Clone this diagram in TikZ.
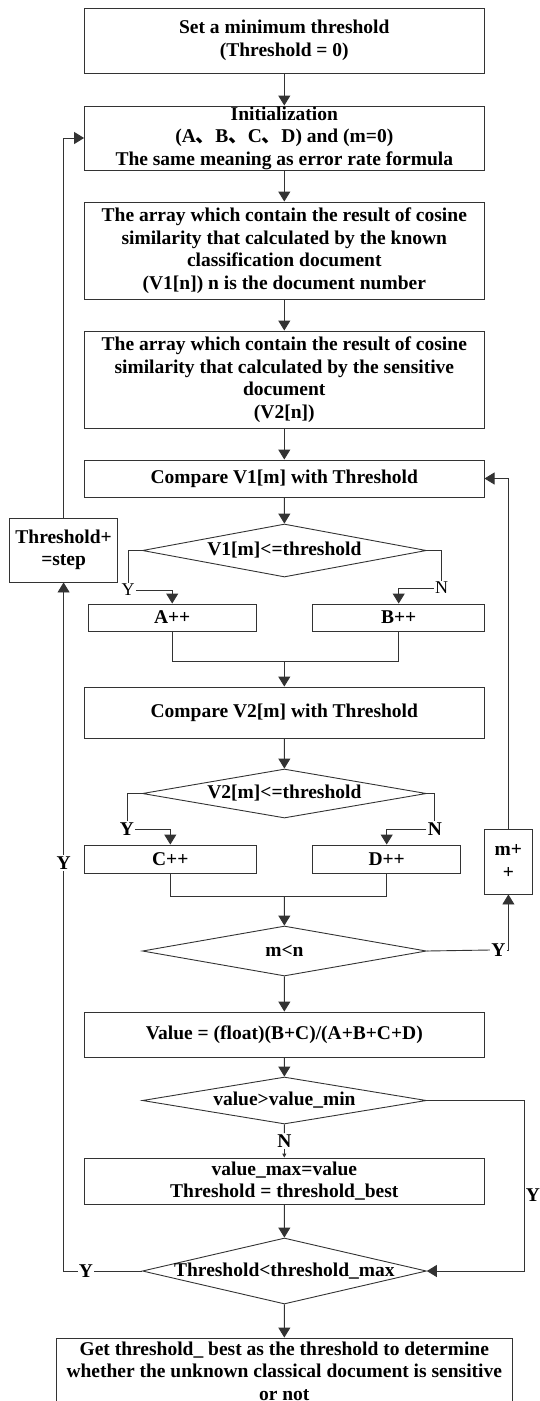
\documentclass[tikz,border=0pt]{standalone}
\usepackage{fontspec}
\setmainfont{Liberation Serif}
\newfontfamily\cjk{Noto Sans CJK SC}
\usetikzlibrary{shapes.geometric,arrows.meta}

\tikzset{
  box/.style={draw=black!80, line width=0.9pt, align=center, inner sep=0pt},
  cond/.style={draw=black!80, line width=0.9pt, diamond, aspect=5.3, inner sep=0pt, minimum width=284pt},
  lbl/.style={inner sep=1pt},
  thinlbl/.style={inner sep=1pt, font=\fontsize{18}{18}\selectfont\mdseries},
  arr/.style={-{Triangle[length=10pt,width=12pt]}},
}

\begin{document}
\begin{tikzpicture}[x=1pt, y=-1pt, line width=0.9pt, draw=black!80,
    font=\fontsize{19.5}{22.5}\selectfont\bfseries]
  \useasboundingbox (0,0) rectangle (539,1401);
  \def\bw{399.5}
  % main column
  \node[box, minimum width=\bw, minimum height=65] (start) at (284.3,40.5) {Set a minimum threshold\\(Threshold = 0)};
  \node[box, minimum width=\bw, minimum height=64] (init) at (284.3,138) {Initialization\\(A{\cjk 、}B{\cjk 、}C{\cjk 、}D) and (m=0)\\The same meaning as error rate formula};
  \node[box, minimum width=\bw, minimum height=97] (arrA) at (284.3,250.5) {The array which contain the result of cosine\\similarity that calculated by the known\\classification document\\(V1[n]) n is the document number};
  \node[box, minimum width=\bw, minimum height=97] (arrB) at (284.3,379.5) {The array which contain the result of cosine\\similarity that calculated by the sensitive\\document\\(V2[n])};
  \node[box, minimum width=\bw, minimum height=37] (cmpA) at (284.3,478.5) {Compare V1[m] with Threshold};
  \node[cond, minimum height=53, label={[lbl]center:V1[m]<=threshold}] (condA) at (284.4,550.5) {};
  \node[box, minimum width=167.7, minimum height=27] (incA) at (172.2,617.5) {A++};
  \node[box, minimum width=171.8, minimum height=27] (incB) at (398.7,617.5) {B++};
  \node[box, minimum width=\bw, minimum height=51] (cmpB) at (284.3,712.5) {Compare V2[m] with Threshold};
  \node[cond, minimum height=49, label={[lbl]center:V2[m]<=threshold}] (condB) at (284.4,793.5) {};
  \node[box, minimum width=171.5, minimum height=28] (incC) at (170.3,859) {C++};
  \node[box, minimum width=147.8, minimum height=28] (incD) at (386.7,859) {D++};
  \node[cond, minimum height=50, label={[lbl]center:m<n}] (condM) at (284.4,951) {};
  \node[box, minimum width=48.8, minimum height=65] (incM) at (508.4,861.5) {m+\\+};
  \node[box, minimum width=\bw, minimum height=45] (val) at (284.3,1034.5) {Value = (float)(B+C)/(A+B+C+D)};
  \node[cond, minimum height=47, label={[lbl]center:value>value\_min}] (condV) at (284.4,1100.5) {};
  \node[box, minimum width=\bw, minimum height=46] (vmax) at (284.3,1181) {value\_max=value\\Threshold = threshold\_best};
  \node[cond, minimum height=66, label={[lbl]center:Threshold<threshold\_max}] (condT) at (284.4,1271) {};
  \node[box, minimum width=455.3, minimum height=66] (res) at (284.3,1371) {Get threshold\_ best as the threshold to determine\\whether the unknown classical document is sensitive\\or not};
  \node[box, minimum width=108.6, minimum height=64] (step) at (63.6,550) {Threshold+\\=step};

  % yes / no labels
  \node[thinlbl] (yA) at (128,590) {Y};
  \node[thinlbl] (nA) at (441.6,588) {N};
  \node[lbl] (yB) at (127,829) {Y};
  \node[lbl] (nB) at (434.8,829) {N};
  \node[lbl] (yM) at (498.4,950) {Y};
  \node[lbl] (nV) at (284.3,1141) {N};
  \node[lbl] (yV) at (533,1195) {Y};
  \node[lbl] (yT) at (86,1271) {Y};
  \node[lbl] (yL) at (63.6,863) {Y};
  \coordinate (mgA) at (284.3,661);
  \coordinate (mgB) at (284.3,896);
  \coordinate (rc) at (524,1271);

  % connectors
  \draw[arr] (start) -- (init);
  \draw[arr] (init) -- (arrA);
  \draw[arr] (arrA) -- (arrB);
  \draw[arr] (arrB) -- (cmpA);
  \draw[arr] (cmpA) -- (condA);
  \draw (condA.west) -| (yA.north);
  \draw[arr] (yA.east) -| (incA.north);
  \draw (condA.east) -| (nA.north);
  \draw[arr] (nA.west) -| (incB.north);
  \draw (incA.south) |- (mgA) -| (incB.south);
  \draw[arr] (mgA) -- (cmpB);
  \draw[arr] (cmpB) -- (condB);
  \draw (condB.west) -| (yB.north);
  \draw[arr] (yB.east) -| (incC.north);
  \draw (condB.east) -| (nB.north);
  \draw[arr] (nB.west) -| (incD.north);
  \draw (incC.south) |- (mgB) -| (incD.south);
  \draw[arr] (mgB) -- (condM);
  \draw (condM.east) -- (yM.west);
  \draw[arr] (yM.east) -| (incM.south);
  \draw[arr] (incM.north) |- (cmpA.east);
  \draw[arr] (condM) -- (val);
  \draw[arr] (val) -- (condV);
  \draw (condV.south) -- (nV.north);
  \draw[-{Triangle[length=4pt,width=4pt]}] (nV.south) -- (vmax.north);
  \draw[arr] (condV.east) -| (rc) -- (condT.east);
  \draw[arr] (vmax) -- (condT);
  \draw[arr] (condT) -- (res);
  \draw (condT.west) -- (yT.east);
  \draw (yT.west) -| (yL.south);
  \draw[arr] (yL.north) -- (step.south);
  \draw[arr] (step.north) |- (init.west);
\end{tikzpicture}
\end{document}
